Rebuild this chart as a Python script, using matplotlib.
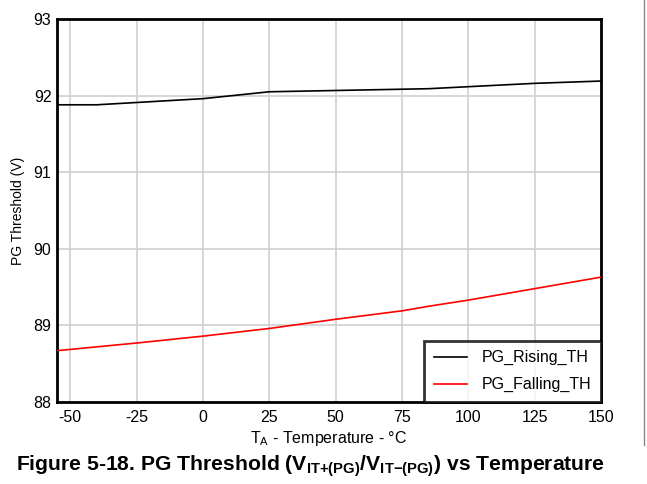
import matplotlib
matplotlib.use("Agg")
import matplotlib.pyplot as plt
from matplotlib.lines import Line2D

temp_rising = [-55, -40, 0, 25, 85, 125, 150]
pg_rising = [91.88, 91.88, 91.96, 92.05, 92.09, 92.16, 92.19]

temp_falling = [-55, -25, 0, 25, 50, 75, 85, 100, 125, 150]
pg_falling = [88.67, 88.77, 88.86, 88.96, 89.08, 89.19, 89.25, 89.33, 89.48, 89.63]

xticks = [-50, -25, 0, 25, 50, 75, 100, 125, 150]
yticks = [88, 89, 90, 91, 92, 93]

plt.rcParams['font.family'] = ['Liberation Sans', 'DejaVu Sans']
plt.rcParams['axes.unicode_minus'] = False

fig = plt.figure(figsize=(6.47, 4.84), dpi=100)
ax = fig.add_axes([57/647, 1-402/484, (601-57)/647, (402-19)/484])

ax.plot(temp_rising, pg_rising, color='black', lw=1.2, label='PG_Rising_TH', zorder=3)
ax.plot(temp_falling, pg_falling, color='#ff0000', lw=1.2, label='PG_Falling_TH', zorder=3)

ax.set_xlim(-55, 150)
ax.set_ylim(88, 93)
ax.set_xticks(xticks)
ax.set_xticklabels([str(t) for t in xticks])
ax.set_yticks(yticks)
ax.tick_params(length=0, labelsize=11.5)
ax.tick_params(axis='x', pad=6)
ax.tick_params(axis='y', pad=4)
ax.grid(True, color='#d0d0d0', lw=1.2)
ax.set_axisbelow(True)
for s in ax.spines.values():
    s.set_linewidth(2)
    s.set_color('black')

ax.set_xlabel(r'T$_\mathregular{A}$ - Temperature - °C', fontsize=11.5, labelpad=3)
ax.set_ylabel('PG Threshold (V)', fontsize=10, labelpad=6)

leg = ax.legend(loc='lower right', fontsize=11.5, frameon=True, fancybox=False,
                edgecolor='black', borderaxespad=0, handlelength=2.1,
                handletextpad=0.9, borderpad=0.6, labelspacing=0.75)
leg.get_frame().set_linewidth(2)
leg.set_zorder(5)

fig.text(16/647, 1-466/484,
         r'Figure 5-18. PG Threshold (V$_\mathregular{IT{+}(PG)}$/V$_\mathregular{IT{-}(PG)}$) vs Temperature',
         fontsize=15.2, fontweight='bold', va='center', ha='left')

fig.add_artist(Line2D([644/647, 644/647], [1, 1-445/484], transform=fig.transFigure,
                      color='#888888', lw=1))

fig.savefig('out.png', dpi=100)
